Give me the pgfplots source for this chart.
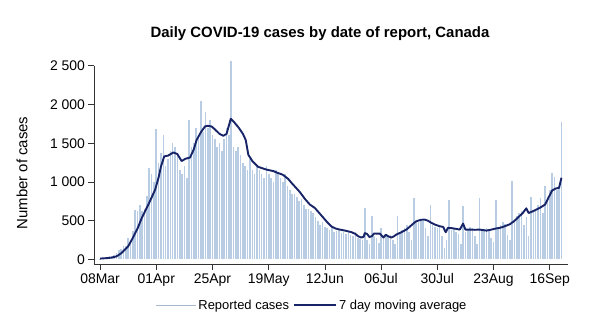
\documentclass[border=0pt]{standalone}
\usepackage{pgfplots}
\pgfplotsset{compat=1.18}
\usepackage{fontspec}
\setmainfont{Liberation Sans}
\definecolor{barblue}{RGB}{184,204,227}
\definecolor{navyline}{RGB}{24,36,104}
\pgfplotstableread{
x y
0 10
1 15
2 18
3 25
4 40
5 50
6 60
7 85
8 120
9 130
10 180
11 170
12 280
13 250
14 370
15 640
16 620
17 700
18 630
19 650
20 820
21 1180
22 1100
23 1000
24 1680
25 1250
26 1370
27 1600
28 1200
29 1300
30 1400
31 1500
32 1450
33 1350
34 1150
35 1100
36 1200
37 1050
38 1800
39 1450
40 1500
41 1700
42 1550
43 2050
44 1650
45 1900
46 1700
47 1800
48 1600
49 1550
50 1450
51 1500
52 1400
53 1550
54 1700
55 1600
56 2560
57 1450
58 1400
59 1450
60 1350
61 1250
62 1200
63 1150
64 1300
65 1150
66 1100
67 1200
68 1150
69 1100
70 1050
71 1200
72 1100
73 1050
74 1000
75 1150
76 1100
77 1050
78 1000
79 1100
80 950
81 900
82 850
83 850
84 800
85 750
86 780
87 700
88 650
89 650
90 620
91 600
92 550
93 500
94 450
95 480
96 420
97 400
98 380
99 400
100 350
101 370
102 380
103 340
104 350
105 330
106 360
107 320
108 300
109 350
110 280
111 270
112 250
113 665
114 250
115 200
116 565
117 300
118 280
119 210
120 400
121 270
122 300
123 290
124 320
125 250
126 200
127 560
128 350
129 380
130 400
131 450
132 350
133 250
134 790
135 500
136 480
137 520
138 500
139 400
140 300
141 700
142 450
143 420
144 400
145 420
146 300
147 150
148 250
149 770
150 380
151 400
152 350
153 330
154 200
155 690
156 350
157 380
158 420
159 400
160 300
161 200
162 790
163 380
164 390
165 400
166 380
167 280
168 220
169 770
170 420
171 450
172 480
173 460
174 320
175 250
176 1010
177 520
178 560
179 600
180 620
181 450
182 550
183 300
184 800
185 620
186 650
187 700
188 790
189 600
190 950
191 800
192 900
193 1120
194 1060
195 900
196 950
197 1770
}\daily
\pgfplotstableread{
x y
0 12
3 18
5 25
7 40
9 80
10 110
12 170
14 280
16 400
17.8 536
19 610
20.6 708
22 800
23.5 900
25 1060
26 1200
27.4 1330
29 1340
31.3 1381
33 1360
34.8 1270
36.5 1300
38.4 1315
40 1420
41.2 1540
43 1640
44.8 1716
46 1725
47.6 1716
49 1680
51 1620
52.6 1596
54 1620
55.8 1815
57 1780
59.2 1700
61 1620
62.2 1540
63.3 1351
65 1270
67.5 1195
69 1180
71 1160
74 1140
76 1115
78 1094
80.3 1040
82 980
83.5 930
85.3 870
87.5 780
89.6 708
91.7 665
93 620
95.3 540
97 480
98.8 425
100.5 400
102.4 386
105 370
107.4 352
109 330
110.2 300
111.6 283
112.6 295
113 340
114 330
115 290
116 300
117 335
119.5 334
121 283
122 320
123 300
124.4 283
125.5 300
126.5 322
128.5 350
130.8 386
132.5 430
134 470
135 493
137 512
138.6 515
140 500
141.5 472
143 450
145 429
146.5 420
147.6 352
148.5 408
150 405
152 395
153.6 386
155 463
156 386
158 386
160 383
162 386
165 373
167 385
169 400
170.6 408
172 420
175 455
177 500
179 557
180.5 600
182 660
183 600
185 625
187.7 665
190 708
191.5 800
193 890
194.5 915
196 925
197 1055
}\avg
\begin{document}
\begin{tikzpicture}
\path[use as bounding box] (0bp,0bp) rectangle (600bp,330bp);
\node[font=\bfseries\fontsize{15}{17}\selectfont] at (320bp,296bp) {Daily COVID-19 cases by date of report, Canada};
\begin{axis}[
  at={(94bp,65.5bp)}, anchor=south west, scale only axis,
  width=474bp, height=198.8bp,
  xmin=-2.6, xmax=199.8, ymin=-64.5, ymax=2500,
  axis x line*=bottom, axis y line*=left,
  axis line style={black!80, line width=0.8bp},
  tick align=outside, major tick length=5.5bp,
  tick style={black!80, line width=0.8bp},
  xtick={0,24,...,192},
  xticklabels={08Mar,01Apr,25Apr,19May,12Jun,06Jul,30Jul,23Aug,16Sep},
  ytick={0,500,...,2500},
  /pgf/number format/assume math mode=true,
  /pgf/number format/1000 sep={\ },
  ticklabel style={font=\fontsize{14}{16}\selectfont},
  ylabel={Number of cases},
  every axis y label/.style={at={(axis description cs:-0.152,0.46)}, rotate=90, anchor=center, font=\fontsize{15}{17}\selectfont},
  legend style={at={(axis description cs:0.46,-0.204)}, anchor=center, draw=none, fill=none,
     legend columns=2, font=\fontsize{13}{15}\selectfont,
     /tikz/every even column/.append style={column sep=2bp}},
  clip=false,
]
\addplot[ycomb, draw=barblue, line width=1.6bp, mark=none,
  legend image code/.code={\draw[barblue!90!black, line width=0.8bp] (0bp,0bp) -- (40bp,0bp);}]
  table[x=x, y=y] {\daily};
\addlegendentry{Reported cases}
\addplot[navyline, line width=1.9bp, mark=none, line join=round,
  legend image code/.code={\draw[navyline, line width=1.9bp] (0bp,0bp) -- (42bp,0bp);}]
  table[x=x, y=y] {\avg};
\addlegendentry{7 day moving average}
\end{axis}
\end{tikzpicture}
\end{document}
